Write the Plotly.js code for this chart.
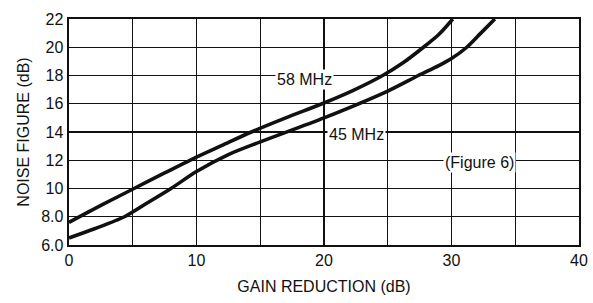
<!DOCTYPE html>
<html>
<head>
<meta charset="utf-8">
<script src="https://cdn.plot.ly/plotly-3.0.1.min.js"></script>
<style>html,body{margin:0;padding:0;background:#fff;}#chart{width:593px;height:303px;}</style>
</head>
<body>
<div id="chart"></div>
<script>
// Gain reduction (dB) vs noise figure (dB)
const gain58 = [0, 2.5, 5.1, 7.5, 9.6, 12, 14.3, 17, 19.85, 22.3, 24.6, 26.2, 27.8, 29, 30.1];
const nf58   = [7.6, 8.8, 10.0, 11.1, 12.05, 13.05, 14.0, 15.0, 16.0, 16.95, 18.0, 18.9, 20.0, 20.9, 22.0];
const gain45 = [0, 2, 4.35, 6, 8, 10, 12.5, 15, 20, 25, 27.4, 29, 30, 31.2, 32.3, 33.4];
const nf45   = [6.5, 7.15, 8.0, 8.9, 10.0, 11.2, 12.4, 13.3, 15.0, 16.9, 18.0, 18.7, 19.2, 20.0, 21.0, 22.0];

const xTickVals = [0, 5, 10, 15, 20, 25, 30, 35, 40];
const xTickText = ['0', '', '10', '', '20', '', '30', '', '40'];
const yTickVals = [6, 8, 10, 12, 14, 16, 18, 20, 22];
const yTickText = ['6.0', '8.0', '10', '12', '14', '16', '18', '20', '22'];

const FONT = '"Liberation Sans", Arial, Helvetica, sans-serif';
const INK = '#111';

const traces = [
  {x: gain58, y: nf58, mode: 'lines', name: '58 MHz', line: {color: INK, width: 3.6, shape: 'spline', smoothing: 0.8}},
  {x: gain45, y: nf45, mode: 'lines', name: '45 MHz', line: {color: INK, width: 3.6, shape: 'spline', smoothing: 0.8}}
];

const layout = {
  width: 593, height: 303,
  margin: {l: 69, r: 14, t: 19, b: 58},
  paper_bgcolor: '#fff', plot_bgcolor: '#fff',
  showlegend: false,
  font: {family: FONT, color: INK, size: 16},
  xaxis: {
    range: [0, 40], tickvals: xTickVals, ticktext: xTickText, ticks: '',
    showgrid: true, gridcolor: INK, gridwidth: 1.3, zeroline: false,
    showline: true, mirror: true, linecolor: INK, linewidth: 2.2,
    tickfont: {family: FONT, size: 16, color: INK},
    title: {text: 'GAIN REDUCTION (dB)', font: {family: FONT, size: 16, color: INK}, standoff: 12},
    fixedrange: true
  },
  yaxis: {
    range: [6, 22], tickvals: yTickVals, ticktext: yTickText, ticks: '',
    showgrid: true, gridcolor: INK, gridwidth: 1.3, zeroline: false,
    showline: true, mirror: true, linecolor: INK, linewidth: 2.4,
    tickfont: {family: FONT, size: 16, color: INK},
    title: {text: 'NOISE FIGURE (dB)', font: {family: FONT, size: 16, color: INK}, standoff: 8},
    fixedrange: true
  },
  annotations: [
    {x: 18.45, y: 17.7, xref: 'x', yref: 'y', text: '58 MHz', showarrow: false, bgcolor: '#fff', font: {family: FONT, size: 16, color: INK}},
    {x: 22.55, y: 13.85, xref: 'x', yref: 'y', text: '45 MHz', showarrow: false, bgcolor: '#fff', font: {family: FONT, size: 16, color: INK}},
    {x: 32.2, y: 11.86, xref: 'x', yref: 'y', text: '(Figure 6)', showarrow: false, bgcolor: '#fff', font: {family: FONT, size: 16, color: INK}}
  ]
};

Plotly.newPlot('chart', traces, layout, {staticPlot: true, displayModeBar: false});
</script>
</body>
</html>
